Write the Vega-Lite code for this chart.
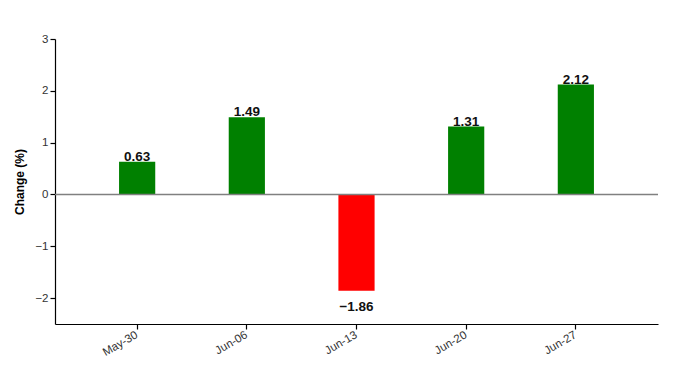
{
  "$schema": "https://vega.github.io/schema/vega-lite/v6.json",
  "width": 603,
  "height": 285,
  "autosize": {"type": "none"},
  "padding": {"left": 55, "top": 39, "right": 37, "bottom": 50},
  "background": "white",
  "config": {
    "view": {"stroke": null},
    "font": "Liberation Sans",
    "axis": {"grid": false, "domainColor": "#000", "tickColor": "#000", "labelColor": "#333", "labelFontSize": 11.5, "labelFont": "Liberation Sans", "domainWidth": 1.2, "tickWidth": 1.2, "tickSize": 5}
  },
  "data": {
    "values": [
      {"date": "May-30", "change": 0.63},
      {"date": "Jun-06", "change": 1.49},
      {"date": "Jun-13", "change": -1.86},
      {"date": "Jun-20", "change": 1.31},
      {"date": "Jun-27", "change": 2.12}
    ]
  },
  "encoding": {
    "x": {
      "field": "date", "type": "nominal", "sort": null,
      "scale": {"paddingInner": 0.67, "paddingOuter": 0.584},
      "axis": {"title": null, "labelAngle": -30, "labelAlign": "right", "labelBaseline": "middle", "labelPadding": 5}
    },
    "y": {
      "field": "change", "type": "quantitative",
      "scale": {"domain": [-2.5, 3], "nice": false, "zero": false},
      "axis": {"title": "Change (%)", "titleFontSize": 12, "titleFontWeight": "bold", "titleColor": "#000", "titlePadding": 8, "values": [-2, -1, 0, 1, 2, 3], "format": "d"}
    }
  },
  "layer": [
    {
      "mark": {"type": "bar"},
      "encoding": {
        "color": {
          "condition": {"test": "datum.change < 0", "value": "#ff0000"},
          "value": "#008000"
        }
      }
    },
    {
      "data": {"values": [{"y": 0}]},
      "mark": {"type": "rule", "color": "#808080", "strokeWidth": 1.5},
      "encoding": {"y": {"field": "y", "type": "quantitative"}, "x": null}
    },
    {
      "transform": [{"filter": "datum.change >= 0"}],
      "mark": {"type": "text", "baseline": "alphabetic", "dy": -1, "fontSize": 13.5, "fontWeight": "bold", "color": "#111"},
      "encoding": {"text": {"field": "change", "type": "quantitative", "format": ".2f"}}
    },
    {
      "transform": [{"filter": "datum.change < 0"}],
      "mark": {"type": "text", "baseline": "top", "dy": 9, "fontSize": 13.5, "fontWeight": "bold", "color": "#111"},
      "encoding": {"text": {"field": "change", "type": "quantitative", "format": ".2f"}}
    }
  ]
}
